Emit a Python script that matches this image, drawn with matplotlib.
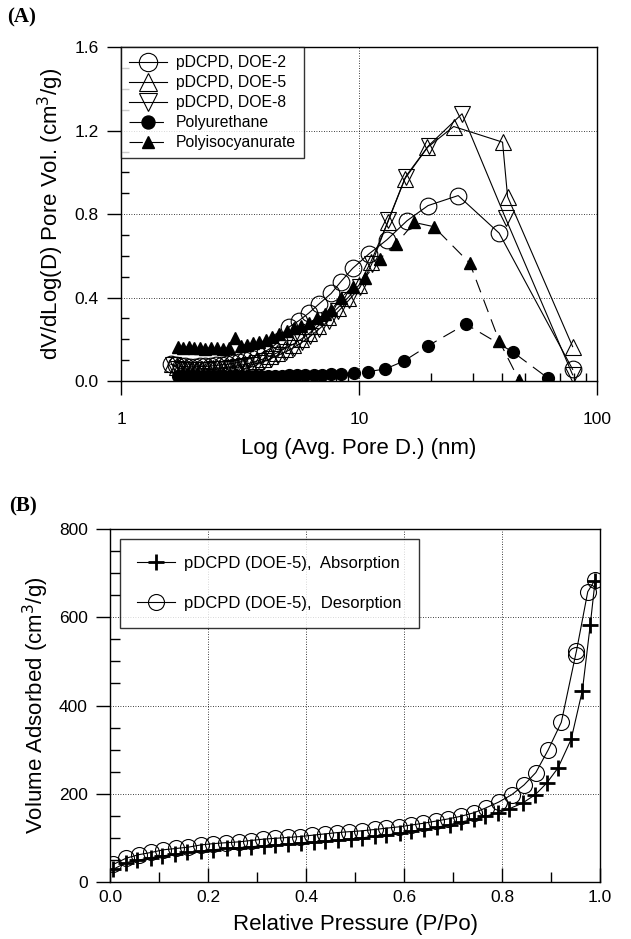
import matplotlib.pyplot as plt
from matplotlib.ticker import FixedLocator, MultipleLocator, NullFormatter

# ---- Panel A: pore size distribution ----
doe2_d = [1.62, 1.70, 1.78, 1.86, 1.95, 2.05, 2.15, 2.26, 2.38, 2.51, 2.65, 2.80, 2.96, 3.13,
          3.32, 3.53, 3.76, 4.01, 4.29, 4.60, 5.10, 5.60, 6.14, 6.80, 7.64, 8.40, 9.40, 11.0,
          13.1, 15.9, 19.5, 26.1, 38.8, 79.0]
doe2_v = [0.080, 0.075, 0.070, 0.070, 0.068, 0.068, 0.070, 0.070, 0.072, 0.075, 0.078, 0.080,
          0.085, 0.090, 0.100, 0.110, 0.125, 0.140, 0.160, 0.190, 0.260, 0.290, 0.325, 0.370,
          0.420, 0.477, 0.540, 0.609, 0.677, 0.768, 0.841, 0.889, 0.709, 0.056]

doe5_d = [1.64, 1.72, 1.80, 1.89, 1.98, 2.08, 2.19, 2.31, 2.44, 2.58, 2.73, 2.89, 3.06, 3.25,
          3.46, 3.69, 3.94, 4.22, 4.53, 4.87, 5.26, 5.70, 6.19, 6.75, 7.39, 8.13, 9.00, 10.0,
          11.2, 13.2, 15.6, 19.4, 25.0, 40.1, 42.1, 79.0]
doe5_v = [0.080, 0.065, 0.060, 0.058, 0.058, 0.058, 0.060, 0.060, 0.062, 0.063, 0.065, 0.068,
          0.072, 0.078, 0.085, 0.095, 0.105, 0.120, 0.135, 0.155, 0.175, 0.200, 0.230, 0.265,
          0.305, 0.350, 0.400, 0.460, 0.570, 0.760, 0.970, 1.120, 1.220, 1.145, 0.884, 0.165]

doe8_d = [1.66, 1.74, 1.82, 1.91, 2.00, 2.10, 2.21, 2.33, 2.46, 2.60, 2.75, 2.91, 3.09, 3.28,
          3.49, 3.72, 3.98, 4.26, 4.57, 4.92, 5.31, 5.75, 6.25, 6.81, 7.45, 8.20, 9.10, 10.1,
          11.3, 13.3, 15.7, 19.6, 27.1, 41.3, 79.0]
doe8_v = [0.075, 0.060, 0.055, 0.052, 0.052, 0.053, 0.054, 0.055, 0.056, 0.058, 0.060, 0.063,
          0.066, 0.070, 0.077, 0.085, 0.095, 0.108, 0.123, 0.140, 0.160, 0.185, 0.215, 0.250,
          0.290, 0.335, 0.390, 0.450, 0.560, 0.773, 0.980, 1.128, 1.281, 0.780, 0.030]

pu_d = [1.73, 1.81, 1.90, 1.99, 2.09, 2.20, 2.31, 2.44, 2.57, 2.71, 2.87, 3.04, 3.22, 3.42,
        3.64, 3.88, 4.14, 4.43, 4.75, 5.10, 5.50, 5.95, 6.45, 7.00, 7.65, 8.40, 9.50, 10.9,
        12.9, 15.4, 19.5, 28.1, 44.2, 62.4]
pu_v = [0.026, 0.025, 0.025, 0.025, 0.025, 0.025, 0.025, 0.025, 0.025, 0.025, 0.025, 0.025,
        0.025, 0.025, 0.025, 0.025, 0.025, 0.026, 0.026, 0.027, 0.027, 0.028, 0.029, 0.030,
        0.032, 0.036, 0.040, 0.045, 0.058, 0.095, 0.169, 0.273, 0.140, 0.013]

pir_d = [1.74, 1.83, 1.93, 2.03, 2.14, 2.26, 2.39, 2.53, 2.68, 2.84, 3.00, 3.18, 3.37, 3.58,
         3.81, 4.06, 4.33, 4.63, 4.96, 5.32, 5.72, 6.16, 6.65, 7.20, 7.64, 8.40, 9.40, 10.6,
         12.2, 14.3, 17.1, 20.6, 29.2, 38.8, 47.0]
pir_v = [0.165, 0.160, 0.165, 0.160, 0.160, 0.155, 0.160, 0.160, 0.155, 0.160, 0.205, 0.170,
         0.175, 0.180, 0.185, 0.195, 0.210, 0.225, 0.240, 0.255, 0.265, 0.280, 0.300, 0.320,
         0.340, 0.400, 0.450, 0.496, 0.585, 0.657, 0.760, 0.740, 0.565, 0.193, 0.005]

# ---- Panel B: isotherm ----
ads_p = [0.007, 0.033, 0.056, 0.083, 0.106, 0.132, 0.158, 0.185, 0.211, 0.238, 0.264, 0.287,
         0.314, 0.337, 0.363, 0.389, 0.416, 0.439, 0.465, 0.492, 0.515, 0.541, 0.564, 0.591,
         0.614, 0.640, 0.667, 0.693, 0.716, 0.743, 0.766, 0.792, 0.815, 0.842, 0.868, 0.891,
         0.914, 0.941, 0.964, 0.980, 0.990]
ads_v = [29, 44, 49, 55, 59, 63, 67, 70, 73, 76, 78, 80, 82, 84, 86, 89, 91, 93, 95, 98, 100,
         104, 107, 110, 115, 119, 124, 130, 136, 142, 149, 157, 166, 179, 198, 224, 258, 323,
         434, 582, 683]

des_p = [0.007, 0.033, 0.059, 0.084, 0.109, 0.135, 0.160, 0.185, 0.211, 0.236, 0.263, 0.287,
         0.312, 0.337, 0.363, 0.388, 0.413, 0.438, 0.464, 0.488, 0.514, 0.540, 0.564, 0.589,
         0.614, 0.639, 0.665, 0.690, 0.716, 0.743, 0.767, 0.793, 0.820, 0.845, 0.869, 0.894,
         0.921, 0.950, 0.952, 0.975, 0.990]
des_v = [40, 54, 62, 67, 73, 76, 79, 84, 87, 89, 91, 94, 97, 99, 101, 103, 106, 109, 112, 114,
         116, 119, 122, 125, 129, 133, 138, 143, 149, 157, 168, 181, 198, 220, 248, 299, 362,
         514, 524, 658, 685]

plt.rcParams['font.family'] = ['Liberation Sans', 'DejaVu Sans']
plt.rcParams['axes.linewidth'] = 1.0

fig = plt.figure(figsize=(6.31, 9.39), dpi=100)

grid_kw = dict(color='black', linestyle=(0, (1, 2)), linewidth=0.6)
line_kw = dict(color='black', linewidth=0.8)

# Panel A
ax1 = fig.add_axes([0.1918, 0.5942, 0.7543, 0.3555])
ax1.plot(doe2_d, doe2_v, marker='o', ms=12, mfc='none', mec='black', mew=0.8,
         label='pDCPD, DOE-2', **line_kw)
ax1.plot(doe5_d, doe5_v, marker='^', ms=12, mfc='none', mec='black', mew=0.8,
         label='pDCPD, DOE-5', **line_kw)
ax1.plot(doe8_d, doe8_v, marker='v', ms=12, mfc='none', mec='black', mew=0.8,
         label='pDCPD, DOE-8', **line_kw)
ax1.plot(pu_d, pu_v, marker='o', ms=8.5, mfc='black', mec='black', linestyle=(0, (12, 7)),
         label='Polyurethane', color='black', linewidth=0.8)
ax1.plot(pir_d, pir_v, marker='^', ms=8.5, mfc='black', mec='black', linestyle=(0, (12, 7)),
         label='Polyisocyanurate', color='black', linewidth=0.8)

ax1.set_xscale('log')
ax1.set_xlim(1, 100)
ax1.set_ylim(0, 1.6)
ax1.yaxis.set_major_locator(FixedLocator([0.0, 0.4, 0.8, 1.2, 1.6]))
ax1.yaxis.set_minor_locator(MultipleLocator(0.1))
ax1.set_yticklabels(['0.0', '0.4', '0.8', '1.2', '1.6'])
ax1.xaxis.set_major_locator(FixedLocator([1, 10, 100]))
ax1.set_xticklabels(['1', '10', '100'])
ax1.xaxis.set_minor_formatter(NullFormatter())
ax1.tick_params(which='major', direction='out', length=10, width=1, labelsize=12.5, pad=6)
ax1.tick_params(axis='x', which='major', pad=12)
ax1.tick_params(which='minor', direction='in', length=6, width=1)
ax1.grid(True, which='major', **grid_kw)
ax1.set_axisbelow(True)
ax1.set_xlabel('Log (Avg. Pore D.) (nm)', fontsize=16, labelpad=8)
ax1.set_ylabel('dV/dLog(D) Pore Vol. (cm$^3$/g)', fontsize=16, labelpad=6)

leg1 = ax1.legend(loc='upper left', borderaxespad=0, fontsize=11.3, frameon=True, fancybox=False,
                  edgecolor='black', handlelength=2.4, handletextpad=0.6, labelspacing=0.32,
                  borderpad=0.5, markerscale=1.1)
leg1.get_frame().set_linewidth(1.0)

# Panel B
ax2 = fig.add_axes([0.1743, 0.0607, 0.7766, 0.3759])
ax2.plot(ads_p, ads_v, marker='+', ms=11, mew=2.0, mec='black',
         label='pDCPD (DOE-5),  Absorption', **line_kw)
ax2.plot(des_p, des_v, marker='o', ms=11.5, mfc='none', mec='black', mew=0.8,
         label='pDCPD (DOE-5),  Desorption', **line_kw)

ax2.set_xlim(0, 1.0)
ax2.set_ylim(0, 800)
ax2.xaxis.set_major_locator(MultipleLocator(0.2))
ax2.xaxis.set_minor_locator(MultipleLocator(0.1))
ax2.yaxis.set_major_locator(MultipleLocator(200))
ax2.yaxis.set_minor_locator(MultipleLocator(50))
ax2.set_xticks([0, 0.2, 0.4, 0.6, 0.8, 1.0])
ax2.set_xticklabels(['0.0', '0.2', '0.4', '0.6', '0.8', '1.0'])
ax2.tick_params(which='major', labelsize=12.5)
ax2.tick_params(axis='y', which='major', direction='out', length=10, width=1, pad=6)
ax2.tick_params(axis='y', which='minor', direction='in', length=7, width=1)
ax2.tick_params(axis='x', which='major', direction='in', length=10, width=1, pad=6)
ax2.tick_params(axis='x', which='minor', direction='in', length=7, width=1)
ax2.grid(True, which='major', **grid_kw)
ax2.set_axisbelow(True)
ax2.set_xlabel('Relative Pressure (P/Po)', fontsize=16, labelpad=6)
ax2.set_ylabel('Volume Adsorbed (cm$^3$/g)', fontsize=16, labelpad=6)

leg2 = ax2.legend(loc='upper left', borderaxespad=0.62, fontsize=12, frameon=True, fancybox=False,
                  edgecolor='black', handlelength=2.3, handletextpad=0.55, labelspacing=1.5,
                  borderpad=1.0)
leg2.get_frame().set_linewidth(1.0)

# panel letters
fig.text(0.012, 0.981, '(A)', fontsize=15, fontweight='bold', family='Liberation Serif', va='center')
fig.text(0.015, 0.461, '(B)', fontsize=15, fontweight='bold', family='Liberation Serif', va='center')

fig.savefig('out.png', dpi=100)
